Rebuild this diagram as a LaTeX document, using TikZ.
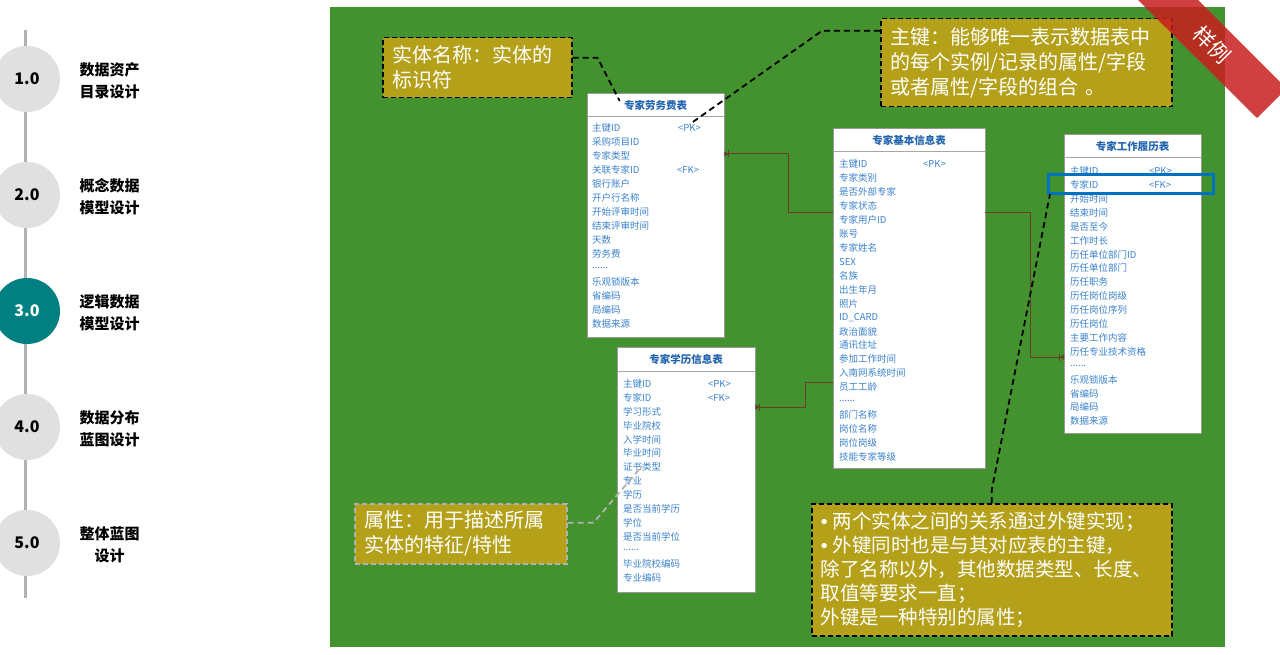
\documentclass[tikz,border=0pt]{standalone}
\usepackage{fontspec}
\setmainfont{Noto Sans CJK SC}
\newfontfamily\bulletfont{Liberation Sans}
\usetikzlibrary{arrows.meta,calc}

\definecolor{panelgreen}{RGB}{67,146,47}
\definecolor{notefill}{RGB}{181,160,26}
\definecolor{rowblue}{RGB}{58,130,205}
\definecolor{titleblue}{RGB}{35,100,175}
\definecolor{relbrown}{RGB}{105,62,40}
\definecolor{hlblue}{RGB}{0,112,192}
\definecolor{stepteal}{RGB}{0,128,128}
\definecolor{stepgray}{RGB}{224,224,224}
\definecolor{ribbonred}{RGB}{200,30,30}

\newcommand\rowdots{......}
\newcommand\notebullet{{\bulletfont •}\hspace{5pt}}

\tikzset{
  stepdot/.style={circle,fill=stepgray,minimum size=66pt,inner sep=0,font=\bfseries\fontsize{16}{16}\selectfont},
  steplbl/.style={anchor=west,align=center,font=\bfseries\fontsize{15}{22}\selectfont},
  tablebox/.style={draw=gray!80,fill=white,anchor=north west,inner sep=0},
  tabletitle/.style={text=titleblue,font=\bfseries\fontsize{10.5}{12}\selectfont},
  rowtxt/.style={anchor=west,inner sep=0,text=rowblue,font=\fontsize{9.5}{11}\selectfont},
  notebox/.style={fill=notefill,draw=black,line width=1.5pt,dash pattern=on 5pt off 3pt,
    text=white,align=left,anchor=north west,inner xsep=10pt,font=\fontsize{20}{25}\selectfont},
  notelink/.style={black,line width=1.8pt,dash pattern=on 6pt off 4pt},
  rel/.style={relbrown,line width=1pt},
  relend/.tip={Bar[width=7pt,line width=1pt] Triangle[reversed,length=4pt,width=5pt]}
}

\begin{document}
\begin{tikzpicture}[x=1pt,y=-1pt]
\useasboundingbox (0,0) rectangle (1280,655);

% steps on the left
\draw[gray!60,line width=3pt] (25,30) -- (25,598);
\node[stepdot] (s1) at (27,79) {1.0};
\node[stepdot] (s2) at (27,195) {2.0};
\node[stepdot,fill=stepteal,text=white] (s3) at (27,311) {3.0};
\node[stepdot] (s4) at (27,427) {4.0};
\node[stepdot] (s5) at (27,543) {5.0};
\node[steplbl] (l1) at (76,81) {数据资产\\目录设计};
\node[steplbl] (l2) at (76,197) {概念数据\\模型设计};
\node[steplbl] (l3) at (76,313) {逻辑数据\\模型设计};
\node[steplbl] (l4) at (76,429) {数据分布\\蓝图设计};
\node[steplbl] (l5) at (76,545) {整体蓝图\\设计};

% panel
\fill[panelgreen] (330,7) rectangle (1225,647);

% table: expert fee
\node[tablebox,minimum width=137pt,minimum height=244pt] (lwf) at (587,93) {};
\draw[gray!70,line width=1pt] ($(lwf.north west)+(0,24)$) -- ($(lwf.north east)+(0,24)$);
\node[tabletitle] (lwft) at ($(lwf.north)+(0,12)$) {专家劳务费表};
\foreach \r [count=\i from 0] in {主键ID,采购项目ID,专家类型,关联专家ID,银行账户,开户行名称,开始评审时间,结束评审时间,天数,劳务费,\rowdots,乐观锁版本,省编码,局编码,数据来源}
  \node[rowtxt] (lwf-\i) at ($(lwf.north west)+(5,35+14*\i)$) {\r};
\node[rowtxt] (lwfpk) at ($(lwf-0.west)+(86,0)$) {<PK>};
\node[rowtxt] (lwffk) at ($(lwf-3.west)+(85,0)$) {<FK>};

% table: expert basic info
\node[tablebox,minimum width=152pt,minimum height=340pt] (jbxx) at (833,128) {};
\draw[gray!70,line width=1pt] ($(jbxx.north west)+(0,24)$) -- ($(jbxx.north east)+(0,24)$);
\node[tabletitle] (jbxxt) at ($(jbxx.north)+(0,12)$) {专家基本信息表};
\foreach \r [count=\i from 0] in {主键ID,专家类别,是否外部专家,专家状态,专家用户ID,账号,专家姓名,SEX,名族,出生年月,照片,ID\_CARD,政治面貌,通讯住址,参加工作时间,入南网系统时间,员工工龄,\rowdots,部门名称,岗位名称,岗位岗级,技能专家等级}
  \node[rowtxt] (jbxx-\i) at ($(jbxx.north west)+(6,36+13.95*\i)$) {\r};
\node[rowtxt] (jbxxpk) at ($(jbxx-0.west)+(84,0)$) {<PK>};

% table: work history
\node[tablebox,minimum width=137pt,minimum height=299pt] (gzll) at (1064,134) {};
\draw[gray!70,line width=1pt] ($(gzll.north west)+(0,24)$) -- ($(gzll.north east)+(0,24)$);
\node[tabletitle] (gzllt) at ($(gzll.north)+(0,12)$) {专家工作履历表};
\foreach \r [count=\i from 0] in {主键ID,专家ID,开始时间,结束时间,是否至今,工作时长,历任单位部门ID,历任单位部门,历任职务,历任岗位岗级,历任岗位序列,历任岗位,主要工作内容,历任专业技术资格,\rowdots,乐观锁版本,省编码,局编码,数据来源}
  \node[rowtxt] (gzll-\i) at ($(gzll.north west)+(6,37+13.9*\i)$) {\r};
\node[rowtxt] (gzllpk) at ($(gzll-0.west)+(79,0)$) {<PK>};
\node[rowtxt] (gzllfk) at ($(gzll-1.west)+(79,0)$) {<FK>};
\draw[hlblue,line width=3pt] (1048,175) rectangle (1213,194);
\coordinate (fkrow) at (1050,194);

% table: education
\node[tablebox,minimum width=138pt,minimum height=245pt] (xl) at (617,347) {};
\draw[gray!70,line width=1pt] ($(xl.north west)+(0,24)$) -- ($(xl.north east)+(0,24)$);
\node[tabletitle] (xlt) at ($(xl.north)+(0,12)$) {专家学历信息表};
\foreach \r [count=\i from 0] in {主键ID,专家ID,学习形式,毕业院校,入学时间,毕业时间,证书类型,专业,学历,是否当前学历,学位,是否当前学位,\rowdots,毕业院校编码,专业编码}
  \node[rowtxt] (xl-\i) at ($(xl.north west)+(6,37+13.86*\i)$) {\r};
\node[rowtxt] (xlpk) at ($(xl-0.west)+(85,0)$) {<PK>};
\node[rowtxt] (xlfk) at ($(xl-1.west)+(85,0)$) {<FK>};

% relations
\draw[rel,{relend}-] ([yshift=-61pt]lwf.north east) -- ++(64,0) |- ([yshift=-85pt]jbxx.north west);
\draw[rel,-{relend}] ([yshift=-85pt]jbxx.north east) -- ++(45,0) |- ([yshift=-223pt]gzll.north west);
\draw[rel,{relend}-] ([yshift=-60pt]xl.north east) -- ++(50,0) |- ([yshift=-254pt]jbxx.north west);

% notes
\node[notebox,text width=169pt,minimum height=60pt] (nt1) at (382,37) {实体名称：实体的\\标识符};
\node[notebox,text width=271pt,minimum height=88pt] (nt2) at (880,18) {主键：能够唯一表示数据表中\\的每个实例/记录的属性/字段\\或者属性/字段的组合 。};
\node[notebox,draw=gray!60,text width=192pt,minimum height=60pt] (nt3) at (354,503) {属性：用于描述所属\\实体的特征/特性};
\node[notebox,inner xsep=9pt,text width=342pt,minimum height=132pt,font=\fontsize{19.5}{24}\selectfont] (nt4) at (811,503)
  {\notebullet 两个实体之间的关系通过外键实现；\\\notebullet 外键同时也是与其对应表的主键，\\除了名称以外，其他数据类型、长度、\\取值等要求一直；\\外键是一种特别的属性；};

\draw[notelink] ([yshift=10pt]nt1.east) -- ++(25,0) -- ($(lwft.west)+(-1,-4)$);
\draw[notelink] ([yshift=32pt]nt2.west) -- ++(-58,0) -- (lwfpk.north);
\draw[notelink,gray!60] ([yshift=11pt]nt3.east) -- ++(26,0) -- ($(xl-6.west)+(18,0)$);
\draw[notelink] (nt4.north) -- ++(0,-13) -- (fkrow);

% sample ribbon
\fill[ribbonred,opacity=0.85] (1138,0) -- (1198,0) -- (1280,82) -- (1280,95) -- (1257,118) -- cycle;
\node[text=white,rotate=-45,inner sep=0,font=\fontsize{21}{21}\selectfont] (smp) at (1212,45) {样例};
\end{tikzpicture}
\end{document}
